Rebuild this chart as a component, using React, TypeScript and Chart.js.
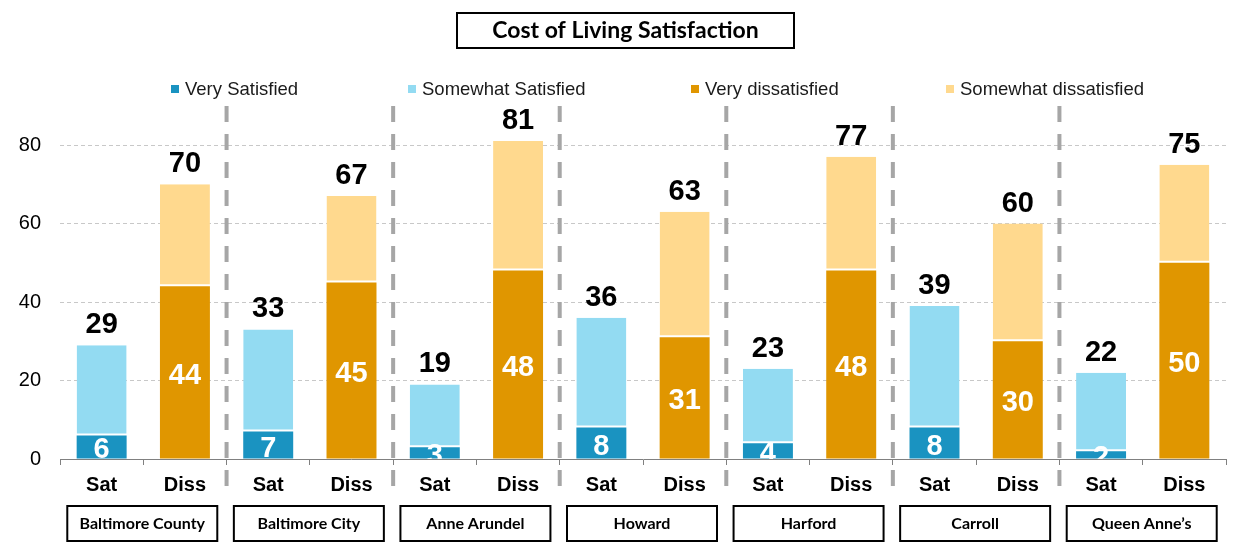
import React, { useEffect, useRef } from "react";
import { Chart, registerables } from "chart.js";

Chart.register(...registerables);

const counties = [
  "Baltimore County",
  "Baltimore City",
  "Anne Arundel",
  "Howard",
  "Harford",
  "Carroll",
  "Queen Anne\u2019s",
];
const barLabels = ["Sat", "Diss"];
const verySatisfied = [6, 7, 3, 8, 4, 8, 2];
const somewhatSatisfied = [23, 26, 16, 28, 19, 31, 20];
const veryDissatisfied = [44, 45, 48, 31, 48, 30, 50];
const somewhatDissatisfied = [26, 22, 33, 32, 29, 30, 25];
const seriesNames = [
  "Very Satisfied",
  "Somewhat Satisfied",
  "Very dissatisfied",
  "Somewhat dissatisfied",
];
const seriesColors = ["#1A93C1", "#93DBF2", "#E09600", "#FFD98E"];
const chartTitle = "Cost of Living Satisfaction";
const yMaxLabel = 80;

const ARIAL = "'Liberation Sans', Arial, sans-serif";
const CALIBRI = "Lato, 'Open Sans', sans-serif";

const categories = counties.flatMap(() => barLabels);
const satOnly = (vals: number[]) => vals.flatMap((v) => [v, null]);
const dissOnly = (vals: number[]) => vals.flatMap((v) => [null, v]);

const decoPlugin = {
  id: "deco",
  afterDatasetsDraw(chart: any) {
    const ctx = chart.ctx;
    const area = chart.chartArea;
    ctx.save();
    ctx.beginPath();
    ctx.rect(area.left, area.top - 200, area.right - area.left, area.bottom - area.top + 200);
    ctx.clip();
    ctx.textAlign = "center";
    ctx.textBaseline = "alphabetic";
    const n = categories.length;
    for (let i = 0; i < n; i++) {
      let top = Infinity;
      let total = 0;
      let x = 0;
      chart.data.datasets.forEach((ds: any, di: number) => {
        const v = ds.data[i];
        if (v == null) return;
        const el = chart.getDatasetMeta(di).data[i];
        total += v;
        x = el.x;
        top = Math.min(top, el.y);
        if (di === 0 || di === 2) {
          const mid = (el.y + el.base) / 2;
          ctx.fillStyle = "#FFFFFF";
          ctx.font = `bold 29px ${ARIAL}`;
          ctx.fillText(String(v), el.x, mid + 11.5);
        }
      });
      if (top !== Infinity) {
        ctx.fillStyle = "#000000";
        ctx.font = `bold 29px ${ARIAL}`;
        ctx.fillText(String(total), x, top - 12);
      }
    }
    ctx.restore();
  },
  afterDraw(chart: any) {
    const ctx = chart.ctx;
    const xs = chart.scales.x;
    ctx.save();

    // Title box
    const tX = 457;
    const tW = 337;
    ctx.strokeStyle = "#000";
    ctx.lineWidth = 2;
    ctx.strokeRect(tX, 13, tW, 35);
    ctx.fillStyle = "#000";
    ctx.font = `bold 23px ${CALIBRI}`;
    ctx.textAlign = "center";
    ctx.textBaseline = "middle";
    ctx.fillText(chartTitle, tX + tW / 2, 31);

    // Legend
    const legendX = [171, 408, 691, 946];
    ctx.font = `18.5px ${ARIAL}`;
    ctx.textAlign = "left";
    ctx.textBaseline = "alphabetic";
    seriesNames.forEach((name, i) => {
      ctx.fillStyle = seriesColors[i];
      ctx.fillRect(legendX[i], 85, 8, 8);
      ctx.fillStyle = "#1A1A1A";
      ctx.fillText(name, legendX[i] + 14, 95);
    });

    // Separators
    ctx.strokeStyle = "#A6A6A6";
    ctx.lineWidth = 4;
    ctx.setLineDash([16, 12]);
    for (let g = 1; g < counties.length; g++) {
      const x = (xs.getPixelForValue(2 * g - 1) + xs.getPixelForValue(2 * g)) / 2;
      ctx.beginPath();
      ctx.moveTo(x, 106);
      ctx.lineTo(x, 487);
      ctx.stroke();
    }
    ctx.setLineDash([]);

    // Group label boxes
    ctx.lineWidth = 2;
    ctx.strokeStyle = "#000";
    ctx.fillStyle = "#000";
    ctx.font = `bold 16px ${CALIBRI}`;
    ctx.textAlign = "center";
    ctx.textBaseline = "middle";
    counties.forEach((name, g) => {
      const cx = (xs.getPixelForValue(2 * g) + xs.getPixelForValue(2 * g + 1)) / 2 - 1;
      ctx.strokeRect(cx - 75, 506, 150, 35);
      ctx.fillText(name, cx, 524);
    });
    ctx.restore();
  },
};

export default function App() {
  const ref = useRef<HTMLCanvasElement | null>(null);
  useEffect(() => {
    document.body.style.margin = "0";
    if (!ref.current) return;
    const chart = new Chart(ref.current, {
      type: "bar",
      data: {
        labels: categories,
        datasets: [
          {
            label: seriesNames[0],
            data: satOnly(verySatisfied),
            backgroundColor: seriesColors[0],
            borderWidth: 0,
          },
          {
            label: seriesNames[1],
            data: satOnly(somewhatSatisfied),
            backgroundColor: seriesColors[1],
            borderColor: "#FFFFFF",
            borderWidth: { top: 0, left: 0, right: 0, bottom: 2 },
            borderSkipped: false,
          },
          {
            label: seriesNames[2],
            data: dissOnly(veryDissatisfied),
            backgroundColor: seriesColors[2],
            borderWidth: 0,
          },
          {
            label: seriesNames[3],
            data: dissOnly(somewhatDissatisfied),
            backgroundColor: seriesColors[3],
            borderColor: "#FFFFFF",
            borderWidth: { top: 0, left: 0, right: 0, bottom: 2 },
            borderSkipped: false,
          },
        ] as any,
      },
      options: {
        responsive: false,
        animation: false,
        devicePixelRatio: 1,
        layout: { padding: { top: 66.5, right: 31, left: 0, bottom: 0 } },
        plugins: {
          legend: { display: false },
          title: { display: false },
          tooltip: { enabled: false },
        },
        datasets: { bar: { categoryPercentage: 1, barPercentage: 0.6 } },
        scales: {
          x: {
            stacked: true,
            offset: true,
            afterFit: (s: any) => {
              s.height = 98;
            },
            grid: {
              offset: true,
              drawOnChartArea: false,
              drawTicks: true,
              tickLength: 6,
              color: "#808080",
            },
            border: { display: true, color: "#808080", width: 1 },
            ticks: {
              color: "#000",
              padding: 8,
              maxRotation: 0,
              autoSkip: false,
              font: { family: ARIAL, size: 20, weight: "bold" },
            },
          },
          y: {
            stacked: true,
            min: 0,
            max: 100,
            afterFit: (s: any) => {
              s.width = 60;
            },
            grid: {
              drawTicks: false,
              color: (c: any) =>
                c.tick && c.tick.value > 0 && c.tick.value <= yMaxLabel ? "#C8C8C8" : "rgba(0,0,0,0)",
            },
            border: { display: false, dash: [4, 3] },
            ticks: {
              stepSize: 20,
              padding: 19,
              color: "#000",
              font: { family: ARIAL, size: 20 },
              callback: (v: any) => (Number(v) > yMaxLabel ? "" : String(v)),
            },
          },
        },
      },
      plugins: [decoPlugin],
    });
    return () => chart.destroy();
  }, []);
  return <canvas ref={ref} width={1257} height={557} style={{ display: "block" }} />;
}
